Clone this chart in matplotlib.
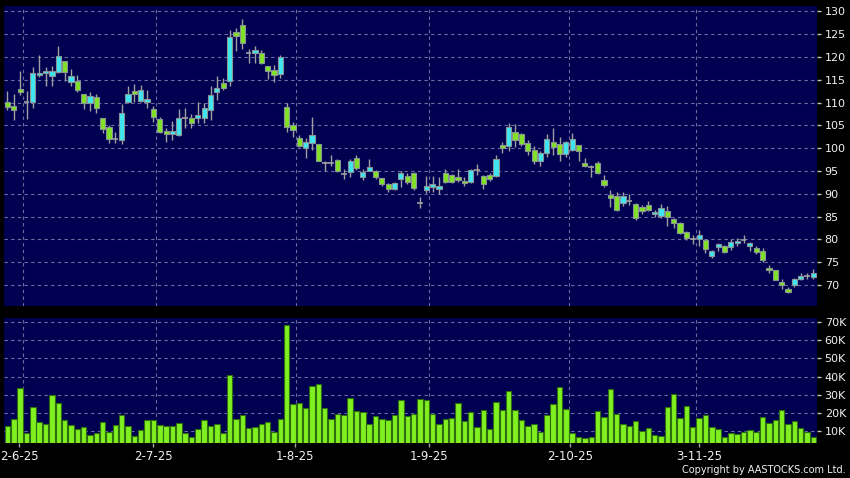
import matplotlib
matplotlib.use("Agg")
import matplotlib.pyplot as plt
import numpy as np

# daily OHLC
opens = [110.1, 109.2, 113.0, 110.2, 110.1, 116.0, 116.4, 115.9, 116.8, 119.1,
         114.6, 114.7, 111.9, 109.9, 111.2, 106.6, 104.6, 102.0, 101.8, 110.2,
         112.5, 110.4, 110.2, 108.6, 106.4, 103.8, 103.1, 102.9, 106.6, 106.6,
         106.7, 106.6, 108.4, 112.4, 114.3, 114.8, 125.4, 127.0, 121.0, 121.0,
         120.8, 118.0, 117.2, 116.2, 109.0, 105.1, 102.2, 100.0, 101.1, 100.9,
         96.7, 96.7, 97.4, 94.3, 94.7, 97.8, 93.8, 95.1, 95.0, 93.4,
         92.1, 91.1, 93.2, 94.0, 94.5, 88.1, 90.9, 91.6, 91.1, 94.5,
         94.1, 93.6, 92.8, 92.7, 95.2, 94.0, 94.1, 94.0, 100.7, 100.4,
         103.5, 103.1, 101.1, 99.6, 97.1, 98.9, 101.3, 100.9, 98.7, 99.6,
         100.7, 96.8, 95.8, 96.7, 93.0, 89.8, 89.5, 88.1, 88.5, 87.8,
         87.2, 87.6, 85.6, 85.2, 86.2, 84.5, 83.6, 81.6, 80.0, 80.0,
         79.9, 76.4, 78.4, 78.6, 78.4, 79.2, 79.9, 78.6, 78.2, 77.5,
         73.8, 73.3, 70.6, 69.1, 69.9, 71.3, 72.0, 71.7]
highs = [112.6, 111.9, 117.0, 112.5, 117.9, 120.5, 117.9, 118.0, 122.4, 119.2,
         117.3, 116.1, 112.0, 112.4, 111.9, 106.7, 105.1, 103.5, 109.7, 113.7,
         114.0, 113.9, 112.8, 109.3, 106.9, 104.4, 106.0, 108.6, 108.8, 107.5,
         110.1, 110.0, 113.7, 115.9, 115.4, 125.9, 126.3, 128.4, 121.7, 122.4,
         121.6, 118.1, 118.3, 120.5, 110.0, 105.8, 102.9, 102.2, 106.9, 101.0,
         97.1, 98.5, 97.7, 95.4, 97.6, 98.5, 95.4, 97.7, 95.2, 93.5,
         92.3, 92.7, 95.1, 94.5, 94.9, 89.4, 93.9, 93.9, 93.6, 95.4,
         94.4, 95.4, 93.8, 95.5, 96.6, 94.2, 94.6, 98.5, 101.4, 105.5,
         105.3, 103.3, 101.8, 100.4, 99.5, 103.1, 104.4, 102.5, 101.6, 103.3,
         100.8, 97.8, 96.3, 97.3, 94.1, 90.9, 90.5, 90.3, 90.0, 88.1,
         87.6, 88.4, 86.5, 87.8, 87.3, 84.7, 83.8, 81.9, 81.0, 82.1,
         80.0, 77.7, 79.3, 78.8, 80.0, 80.3, 81.0, 79.5, 78.6, 78.1,
         74.4, 73.4, 71.3, 69.6, 71.5, 72.6, 72.6, 73.5]
lows = [108.4, 106.1, 111.7, 106.5, 108.9, 115.7, 113.7, 113.7, 116.5, 114.8,
        113.6, 112.4, 108.6, 108.2, 107.8, 103.4, 101.2, 101.1, 100.9, 109.9,
        110.2, 110.2, 108.9, 105.8, 103.3, 101.4, 101.7, 102.7, 104.4, 104.5,
        105.6, 105.6, 106.2, 110.6, 112.8, 113.7, 121.3, 121.7, 118.6, 118.6,
        118.4, 115.1, 114.6, 115.5, 103.6, 102.5, 100.2, 97.8, 99.6, 97.1,
        95.1, 96.0, 94.9, 93.2, 93.8, 95.2, 93.0, 95.0, 93.3, 91.7,
        90.3, 90.9, 91.6, 92.2, 90.9, 86.8, 90.1, 90.5, 90.0, 92.3,
        92.4, 92.7, 91.7, 92.4, 94.1, 91.1, 92.9, 93.8, 98.9, 99.5,
        100.2, 100.5, 98.5, 96.6, 96.2, 98.0, 98.5, 97.1, 98.0, 99.3,
        97.3, 95.8, 93.6, 94.4, 91.4, 87.2, 86.3, 87.3, 87.6, 84.3,
        85.6, 86.3, 84.9, 84.6, 83.0, 82.5, 81.3, 79.9, 79.0, 78.6,
        77.1, 76.0, 77.5, 77.0, 77.7, 78.6, 79.2, 77.5, 76.8, 75.1,
        72.7, 71.0, 69.1, 68.3, 69.6, 71.0, 71.3, 71.3]
closes = [109.0, 108.3, 112.4, 110.2, 116.4, 116.5, 117.0, 117.0, 120.2, 116.8,
          115.8, 112.8, 109.9, 111.4, 108.8, 104.2, 102.0, 102.0, 107.7, 111.8,
          111.9, 112.8, 110.7, 106.9, 103.6, 103.1, 103.8, 106.6, 106.6, 105.5,
          107.3, 108.8, 111.7, 113.2, 113.2, 124.3, 124.6, 123.0, 121.0, 121.6,
          118.8, 117.0, 116.1, 120.1, 104.6, 103.9, 100.5, 101.3, 102.9, 97.3,
          96.7, 96.7, 95.1, 94.3, 97.2, 95.6, 94.7, 95.8, 93.6, 92.1,
          91.0, 92.3, 94.5, 92.5, 91.2, 88.1, 91.7, 92.2, 91.7, 92.5,
          92.7, 93.0, 92.3, 95.2, 95.2, 92.2, 93.3, 97.6, 100.1, 104.7,
          101.8, 100.9, 99.5, 97.1, 98.9, 102.0, 100.2, 98.7, 101.4, 102.0,
          99.5, 96.2, 95.8, 94.6, 92.0, 89.0, 86.4, 89.5, 88.5, 84.6,
          86.3, 86.5, 86.1, 86.8, 85.0, 83.6, 81.5, 80.4, 80.0, 81.0,
          77.9, 77.5, 78.9, 77.3, 79.4, 79.7, 79.9, 79.2, 77.3, 75.4,
          73.2, 71.1, 69.9, 68.5, 71.3, 72.0, 72.0, 72.6]
# volume in thousands
volumes = [12.8, 16.6, 33.5, 9.1, 23.4, 15.0, 13.9, 29.8, 25.6, 15.9,
           13.1, 11.3, 12.0, 7.6, 8.7, 14.8, 9.6, 13.1, 18.6, 12.8,
           7.4, 10.4, 16.2, 16.1, 13.5, 12.6, 12.8, 14.4, 8.9, 6.7,
           11.3, 15.9, 12.8, 13.9, 8.9, 40.8, 16.5, 18.6, 11.7, 12.0,
           14.0, 15.0, 9.6, 16.6, 68.4, 25.0, 25.4, 22.5, 34.6, 35.7,
           22.7, 16.5, 19.4, 18.8, 28.0, 21.0, 20.6, 13.7, 18.4, 16.8,
           16.2, 18.6, 27.2, 18.3, 19.4, 27.5, 26.9, 19.4, 13.7, 16.5,
           17.2, 25.6, 15.7, 20.3, 12.2, 21.4, 11.1, 26.0, 21.6, 32.0,
           21.6, 15.9, 12.9, 13.9, 9.5, 18.8, 24.9, 34.2, 22.1, 9.1,
           6.7, 6.2, 6.7, 21.0, 17.5, 33.1, 19.2, 13.9, 12.6, 15.5,
           10.0, 11.5, 8.0, 7.3, 23.2, 30.4, 17.2, 23.6, 12.4, 17.0,
           19.0, 12.2, 11.1, 6.5, 8.7, 8.4, 9.5, 10.4, 9.3, 17.9,
           14.2, 15.9, 21.6, 13.9, 15.5, 11.7, 9.3, 6.9]
date_labels = ["2-6-25", "2-7-25", "1-8-25", "1-9-25", "2-10-25", "3-11-25"]
label_pos = [1.86, 22.98, 45.3, 66.48, 88.65, 109.0]
grid_pos = [2.49, 23.4, 45.42, 66.48, 88.54, 108.56]
price_ticks = list(range(70, 131, 5))
vol_ticks = list(range(10, 71, 10))

NAVY = "#000050"
CYAN = "#3fe6f2"
GREEN = "#80e226"
GRIDC = "#6a6fa0"
TXT = "#f0f0f0"

o = np.array(opens); h = np.array(highs); l = np.array(lows); c = np.array(closes)
x = np.arange(len(o))

fig = plt.figure(figsize=(8.5, 4.78), dpi=100, facecolor="black")
ax = fig.add_axes([4 / 850, 172 / 478, 813 / 850, 300 / 478], facecolor=NAVY)
axv = fig.add_axes([4 / 850, 35 / 478, 813 / 850, 125 / 478], facecolor=NAVY)

# candles
ax.vlines(x, l, h, color="#a0a0a0", lw=1, zorder=2)
body = np.abs(c - o) > 0.05
cols = np.where(c >= o, CYAN, GREEN)
ax.bar(x[body], (np.abs(c - o))[body], bottom=np.minimum(o, c)[body], width=0.82,
       color=cols[body], edgecolor="#8a9494", linewidth=0.8, zorder=3)
ax.hlines(c[~body], x[~body] - 0.45, x[~body] + 0.45, color="#a0a0a0", lw=1.2, zorder=3)

# volume
axv.bar(x, volumes, width=0.86, color="#80f020", edgecolor="#2e6e10", linewidth=0.8, zorder=3)

for a in (ax, axv):
    a.set_xlim(-0.55, 127.58)
    for s in a.spines.values():
        s.set_visible(False)
    for g in grid_pos:
        a.axvline(g, color=GRIDC, lw=0.8, ls=(0, (3, 3)), zorder=1)
    a.grid(axis="y", color=GRIDC, lw=0.8, ls=(0, (3, 3)), zorder=1)
    a.set_axisbelow(True)
    a.yaxis.tick_right()
    a.tick_params(axis="y", colors="#c8c8c8", labelcolor=TXT, labelsize=8,
                  length=3, width=1, pad=2.5, direction="out")

ax.set_ylim(65.4, 131.2)
ax.set_yticks(price_ticks)
ax.set_xticks([])

axv.set_ylim(3.4, 72.2)
axv.set_yticks(vol_ticks)
axv.set_yticklabels([f"{v}K" for v in vol_ticks])
axv.set_xticks(label_pos)
axv.set_xticklabels(date_labels)
axv.tick_params(axis="x", colors="#a0a0a0", labelcolor=TXT, labelsize=8.5,
                length=3, width=1, pad=2, direction="out")

fig.text(846 / 850, 3 / 478, "Copyright by AASTOCKS.com Ltd.", color=TXT,
         fontsize=7, ha="right", va="bottom")

fig.savefig("out.png", dpi=100, facecolor="black")
